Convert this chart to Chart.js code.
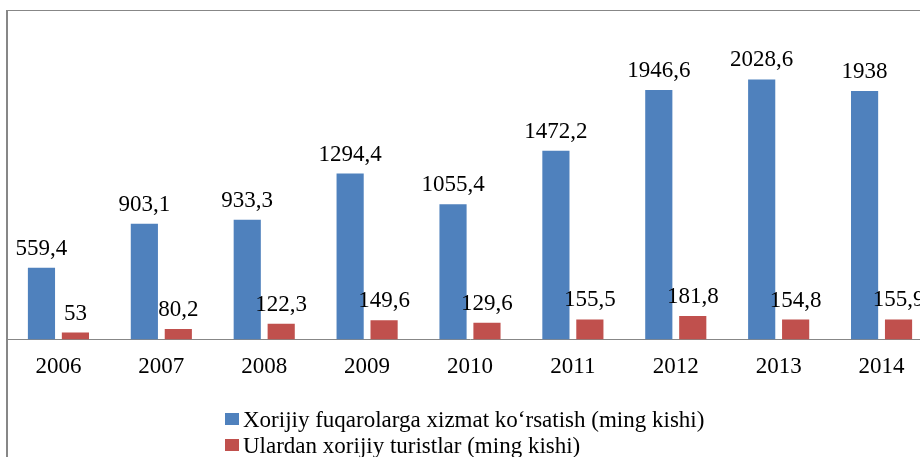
<!DOCTYPE html>
<html>
<head>
<meta charset="utf-8">
<script src="https://cdn.jsdelivr.net/npm/chart.js@4/dist/chart.umd.min.js"></script>
<style>
  html, body { margin: 0; padding: 0; background: #fff; overflow: hidden; }
  #wrap { position: absolute; left: 0; top: 0; width: 940px; height: 457px; }
</style>
</head>
<body>
<div id="wrap"><canvas id="chart"></canvas></div>
<script>
const years = ["2006", "2007", "2008", "2009", "2010", "2011", "2012", "2013", "2014"];
const foreignServed = [559.4, 903.1, 933.3, 1294.4, 1055.4, 1472.2, 1946.6, 2028.6, 1938];
const foreignTourists = [53, 80.2, 122.3, 149.6, 129.6, 155.5, 181.8, 154.8, 155.9];
const seriesNames = [
  "Xorijiy fuqarolarga xizmat ko\u2018rsatish (ming kishi)",
  "Ulardan xorijiy turistlar (ming kishi)"
];

const serif = "'Liberation Serif', 'Times New Roman', serif";
const gray = "#878787";

function fmt(v) {
  return String(v).replace(".", ",");
}

// frame, value labels and the stacked legend
const extras = {
  id: "extras",
  beforeDraw(chart) {
    const ctx = chart.ctx;
    ctx.save();
    ctx.fillStyle = gray;
    ctx.fillRect(6, 10, 2, chart.height - 10);
    ctx.fillRect(6, 10, chart.width, 1);
    ctx.restore();
  },
  afterDatasetsDraw(chart) {
    const ctx = chart.ctx;
    ctx.save();
    ctx.font = "23px " + serif;
    ctx.fillStyle = "#000";
    ctx.textAlign = "center";
    ctx.textBaseline = "alphabetic";
    chart.data.datasets.forEach((ds, i) => {
      chart.getDatasetMeta(i).data.forEach((bar, j) => {
        ctx.fillText(fmt(ds.data[j]), bar.x, bar.y - 13);
      });
    });
    ctx.restore();
  },
  afterDraw(chart) {
    const ctx = chart.ctx;
    ctx.save();
    ctx.font = "23px " + serif;
    ctx.textAlign = "left";
    ctx.textBaseline = "alphabetic";
    chart.data.datasets.forEach((ds, i) => {
      const y = 427 + i * 26;
      ctx.fillStyle = ds.backgroundColor;
      ctx.fillRect(225, y - 14, 14, 12);
      ctx.fillStyle = "#000";
      ctx.fillText(ds.label, 243, y);
    });
    ctx.restore();
  }
};

new Chart(document.getElementById("chart"), {
  type: "bar",
  data: {
    labels: years,
    datasets: [
      { label: seriesNames[0], data: foreignServed, backgroundColor: "#4F81BD" },
      { label: seriesNames[1], data: foreignTourists, backgroundColor: "#C0504D" }
    ]
  },
  options: {
    responsive: true,
    maintainAspectRatio: false,
    animation: false,
    layout: { padding: { left: 7, right: 7, top: 19, bottom: 62 } },
    datasets: { bar: { categoryPercentage: 0.66, barPercentage: 0.8 } },
    plugins: { legend: { display: false }, tooltip: { enabled: false } },
    scales: {
      x: {
        grid: { display: false, drawTicks: false },
        border: { display: true, color: gray, width: 1 },
        ticks: { color: "#000", font: { family: serif, size: 23 }, padding: 14, maxRotation: 0 }
      },
      y: { display: false, min: 0, max: 2500 }
    }
  },
  plugins: [extras]
});
</script>
</body>
</html>
